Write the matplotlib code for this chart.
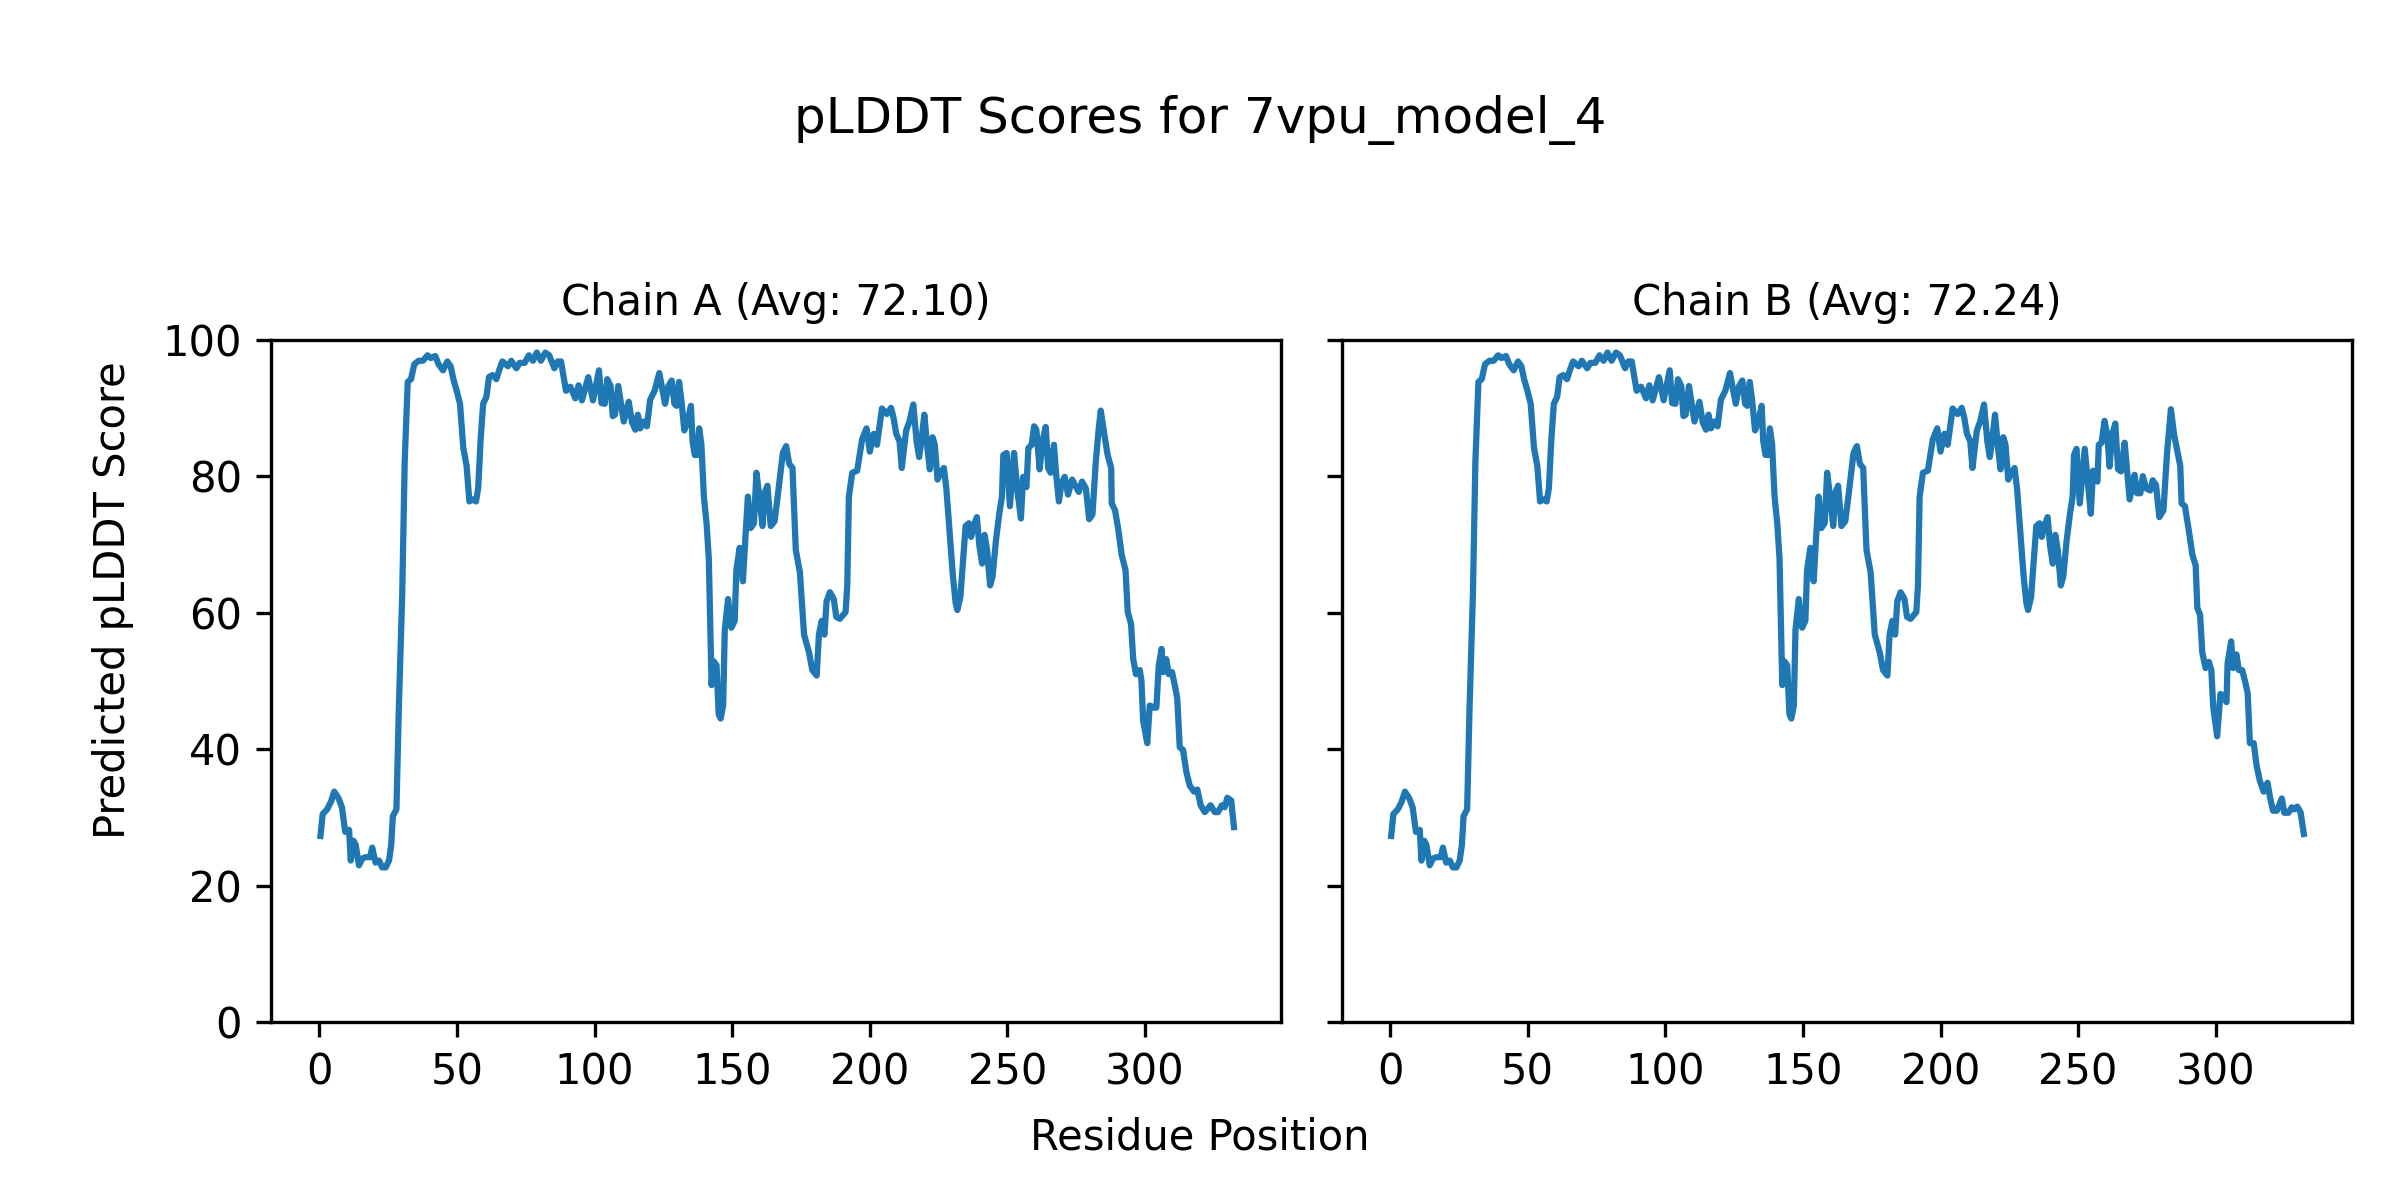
import matplotlib
matplotlib.use("Agg")
import matplotlib.pyplot as plt

# ---- data ----
title = "pLDDT Scores for 7vpu_model_4"
chain_titles = ["Chain A (Avg: 72.10)", "Chain B (Avg: 72.24)"]
xlabel = "Residue Position"
ylabel = "Predicted pLDDT Score"

# residues 1..~249 look identical for both chains
head_pos = [0.4, 1.2, 2.8, 4.2, 5.4, 7.0, 8.2, 9.4, 10.8, 11.4, 12.4, 13.2, 14.4, 15.6,
            16.8, 18.4, 19.2, 20.4, 21.7, 22.8, 24.1, 25.3, 26.1, 26.7, 28.0, 28.9, 30.1,
            31.0, 32.1, 33.3, 34.5, 36.1, 37.6, 39.3, 40.5, 42.1, 43.3, 44.9, 46.5, 47.7,
            48.7, 49.9, 51.1, 52.3, 53.5, 54.5, 55.7, 56.9, 57.7, 58.6, 59.5, 60.7, 61.6,
            62.9, 64.3, 65.3, 66.5, 68.5, 69.7, 71.6, 72.8, 74.6, 76.1, 77.6, 79.0, 80.5,
            82.1, 83.5, 85.4, 86.6, 87.8, 89.6, 91.2, 93.0, 94.2, 95.4, 97.7, 99.4, 101.6,
            102.5, 103.7, 104.6, 105.8, 106.6, 107.4, 108.6, 110.6, 112.4, 113.6, 114.8,
            115.7, 116.6, 117.8, 119.0, 120.2, 121.8, 123.5, 125.6, 126.8, 128.0, 129.0,
            129.8, 130.7, 131.6, 132.6, 133.8, 135.0, 135.6, 136.4, 137.3, 138.0, 138.8,
            139.7, 140.7, 141.5, 142.5, 143.2, 144.3, 145.1, 145.8, 146.7, 147.3, 148.5,
            149.7, 150.9, 151.5, 152.7, 153.9, 154.8, 155.7, 156.7, 157.9, 158.8, 160.0,
            161.0, 161.8, 162.8, 164.0, 165.4, 166.6, 168.4, 169.6, 170.7, 171.9, 173.1,
            174.6, 176.1, 177.9, 179.1, 180.7, 181.5, 182.5, 183.5, 184.3, 185.5, 186.9,
            187.8, 189.1, 191.2, 191.8, 192.4, 193.6, 195.4, 197.2, 198.8, 200.0, 201.4,
            202.6, 204.4, 206.2, 207.7, 208.6, 209.6, 210.8, 211.6, 213.2, 214.4, 215.8,
            217.0, 217.9, 218.8, 219.8, 220.9, 221.8, 222.8, 223.6, 224.6, 225.7, 226.9,
            227.8, 229.0, 230.2, 231.2, 231.8, 232.9, 233.8, 234.8, 236.0, 236.8, 237.7,
            238.9, 239.8, 240.8, 241.7, 242.6, 243.7, 244.6, 245.8, 247.0, 248.0, 248.5]
head_score = [27.3, 30.5, 31.2, 32.3, 33.8, 32.8, 31.5, 27.9, 28.2, 23.7, 26.6, 26.0, 23.0,
              24.0, 24.2, 24.2, 25.6, 23.4, 23.7, 22.7, 22.7, 23.7, 26.0, 30.2, 31.2, 46.4,
              62.7, 82.1, 93.8, 94.2, 96.4, 96.9, 96.9, 97.7, 97.3, 97.6, 96.4, 95.5, 96.8,
              96.1, 94.2, 92.5, 90.6, 84.1, 81.5, 76.3, 76.6, 76.3, 78.2, 85.4, 90.6, 91.6,
              94.5, 94.8, 94.2, 95.5, 96.8, 96.1, 96.9, 95.8, 96.6, 96.6, 97.7, 96.9, 98.1,
              96.9, 98.1, 97.7, 95.8, 96.8, 96.8, 92.5, 93.1, 91.4, 93.3, 91.1, 94.5, 91.1,
              95.5, 90.7, 90.6, 94.2, 93.2, 88.8, 89.0, 93.2, 88.0, 90.9, 87.9, 86.8, 89.0,
              87.0, 88.0, 87.3, 91.2, 92.5, 95.1, 90.6, 93.2, 94.0, 90.6, 90.3, 93.8, 90.9,
              86.7, 88.0, 90.3, 85.1, 83.1, 83.1, 87.0, 84.7, 77.0, 73.0, 67.9, 49.4, 52.9,
              52.3, 45.1, 44.5, 46.4, 57.5, 62.0, 57.8, 58.8, 66.2, 69.5, 64.6, 71.1, 77.0,
              72.4, 73.1, 80.5, 76.6, 72.7, 77.6, 78.6, 72.7, 73.4, 77.3, 83.4, 84.4, 81.8,
              81.2, 69.2, 65.9, 56.8, 54.2, 51.6, 50.8, 56.8, 58.8, 56.8, 61.7, 63.0, 62.0,
              59.4, 59.1, 60.1, 64.0, 77.0, 80.5, 80.8, 85.4, 87.0, 83.6, 86.2, 84.6, 89.9,
              89.1, 90.0, 88.6, 86.2, 85.1, 81.2, 86.7, 88.0, 90.5, 85.1, 82.8, 85.4, 89.0,
              84.1, 81.0, 85.7, 84.6, 79.5, 80.5, 81.2, 78.2, 71.8, 65.3, 61.4, 60.4, 62.3,
              67.2, 72.7, 73.1, 71.1, 72.7, 74.0, 69.8, 67.2, 71.4, 69.2, 64.0, 65.3, 70.5,
              74.4, 77.0, 83.1]

tail_pos_a = [249.7, 250.9, 252.4, 253.6, 254.9, 255.7, 256.9, 257.6, 258.8, 259.7, 260.5,
              261.7, 262.7, 263.9, 264.8, 265.7, 266.9, 267.7, 268.7, 269.6, 270.8, 272.0,
              273.5, 274.7, 275.9, 277.1, 278.5, 279.7, 280.9, 282.1, 283.1, 283.9, 285.1,
              286.4, 287.7, 287.9, 289.1, 290.3, 291.5, 292.9, 293.7, 294.9, 295.7, 296.7,
              298.1, 298.7, 299.3, 300.8, 301.7, 303.3, 304.1, 305.0, 306.0, 306.6, 307.7,
              308.6, 309.8, 311.0, 311.7, 312.6, 313.8, 315.0, 316.2, 317.8, 319.0, 320.2,
              321.7, 323.8, 325.3, 326.5, 327.9, 328.9, 329.9, 331.3, 332.3]
tail_score_a = [83.4, 75.6, 83.4, 77.9, 73.8, 79.9, 78.4, 84.1, 84.6, 87.3, 86.8, 81.0,
                85.1, 87.2, 81.2, 80.5, 84.6, 80.2, 76.3, 78.9, 79.9, 77.3, 79.5, 78.6,
                77.7, 79.2, 78.2, 73.7, 74.4, 82.1, 86.7, 89.6, 86.4, 83.1, 81.2, 76.0,
                75.0, 72.1, 68.5, 66.2, 60.1, 58.4, 53.2, 51.0, 51.6, 50.0, 44.2, 40.9,
                46.4, 46.1, 46.1, 52.3, 54.7, 51.3, 53.2, 51.0, 51.3, 49.0, 47.4, 40.3,
                39.9, 36.7, 34.7, 33.8, 34.1, 31.8, 30.8, 31.8, 30.8, 30.8, 31.8, 31.5,
                32.9, 32.5, 28.6]

tail_pos_b = [249.4, 250.6, 252.4, 254.6, 255.4, 257.0, 257.5, 258.5, 259.6, 260.6, 261.4,
              262.3, 263.5, 264.5, 265.6, 266.9, 268.7, 270.5, 271.4, 272.6, 273.5, 274.7,
              276.2, 277.1, 278.3, 279.5, 281.0, 282.3, 283.7, 284.9, 287.1, 287.6, 288.8,
              290.3, 291.5, 292.7, 293.3, 294.3, 295.1, 296.3, 297.5, 298.4, 299.1, 300.5,
              301.7, 302.9, 303.9, 304.3, 305.6, 306.3, 307.5, 308.4, 309.6, 310.8, 311.6,
              312.4, 313.8, 314.8, 316.0, 317.4, 318.8, 319.8, 320.8, 322.2, 324.0, 324.9,
              326.4, 327.6, 328.4, 329.6, 330.8, 332.0]
tail_score_b = [84.0, 76.0, 84.0, 74.5, 80.8, 79.2, 84.6, 84.9, 88.1, 86.0, 81.4, 86.0,
                87.7, 81.0, 80.7, 84.9, 76.6, 80.2, 77.5, 77.5, 80.0, 78.2, 77.9, 79.4,
                78.7, 74.0, 75.0, 83.4, 89.8, 86.0, 81.5, 76.0, 75.6, 71.8, 68.5, 66.9,
                60.7, 59.7, 54.2, 51.9, 52.8, 51.6, 46.1, 41.9, 48.1, 47.7, 46.9, 52.6,
                55.8, 51.9, 53.9, 51.6, 51.6, 49.7, 48.2, 40.9, 40.9, 37.7, 35.4, 33.8,
                35.1, 32.8, 31.0, 31.0, 32.8, 30.7, 30.7, 31.5, 31.2, 31.6, 30.8, 27.6]

x_ticks = [0, 50, 100, 150, 200, 250, 300]
y_ticks = [0, 20, 40, 60, 80, 100]

chains = [
    (head_pos + tail_pos_a, head_score + tail_score_a),
    (head_pos + tail_pos_b, head_score + tail_score_b),
]

# ---- figure ----
fig, axes = plt.subplots(1, 2, figsize=(8, 4), dpi=300, sharey=True)
fig.subplots_adjust(left=0.113, right=0.980, bottom=0.148, top=0.717, wspace=0.06)

for ax, (xs, ys), t in zip(axes, chains, chain_titles):
    ax.plot(xs, ys, color="#1f77b4", linewidth=1.5)
    ax.set_title(t, fontsize=10)
    ax.set_ylim(0, 100)
    ax.set_xlim(-17.5, 349.5)
    ax.set_xticks(x_ticks)
    ax.set_yticks(y_ticks)

fig.text(0.5, 0.9, title, ha="center", va="center", fontsize=12)
fig.text(0.5, 0.052, xlabel, ha="center", va="center", fontsize=10)
fig.text(0.047, 0.5, ylabel, ha="center", va="center", rotation=90, fontsize=10)

fig.savefig("out.png", dpi=300)
